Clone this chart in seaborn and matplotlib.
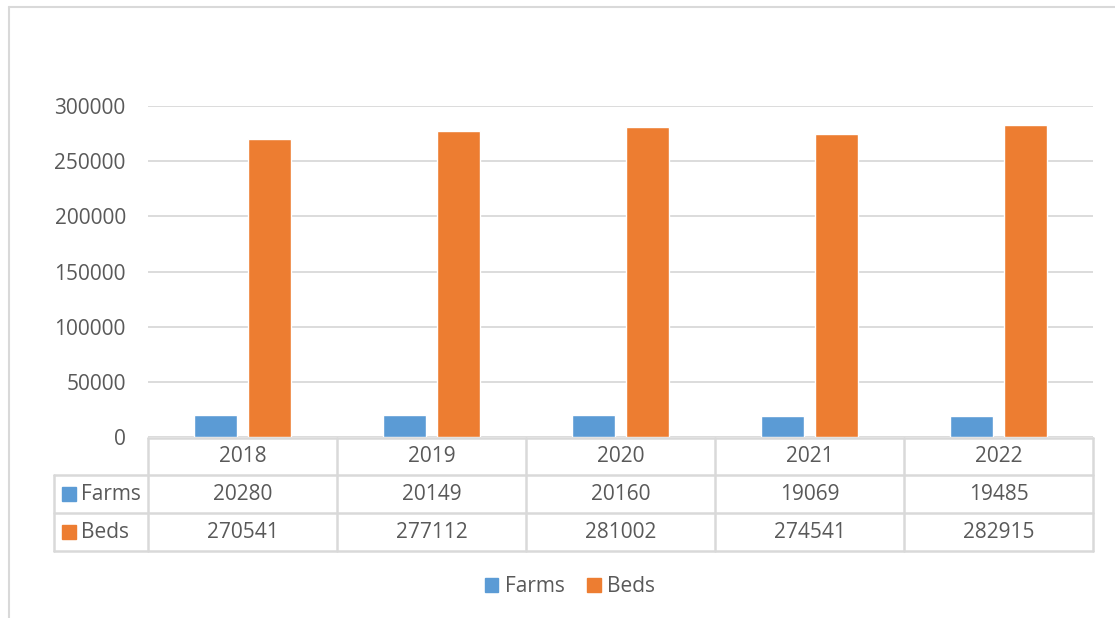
import pandas as pd
import matplotlib.pyplot as plt
import seaborn as sns
from matplotlib.lines import Line2D
from matplotlib.patches import Rectangle
from matplotlib.transforms import blended_transform_factory

# Datos del gráfico
years = ['2018', '2019', '2020', '2021', '2022']
farms = [20280, 20149, 20160, 19069, 19485]
beds = [270541, 277112, 281002, 274541, 282915]
series_names = ['Farms', 'Beds']
y_ticks = [0, 50000, 100000, 150000, 200000, 250000, 300000]

colors = {'Farms': '#5B9BD5', 'Beds': '#ED7D31'}
TXT = '#595959'
GRID = '#D9D9D9'
FS = 15

sns.set_theme(style="white")
plt.rcParams['font.family'] = ['Open Sans', 'DejaVu Sans']

df = pd.DataFrame({
    'year': years * 2,
    'value': farms + beds,
    'serie': ['Farms'] * len(years) + ['Beds'] * len(years),
})

W, H = 1115, 618
fig = plt.figure(figsize=(W / 100, H / 100), dpi=100)
fig.patch.set_facecolor('white')

def fx(px):
    return px / W

def fy(py):
    return 1 - py / H

ax = fig.add_axes([fx(148), fy(437), fx(1093) - fx(148), fy(106) - fy(437)])
sns.barplot(data=df, x='year', y='value', hue='serie', palette=colors,
            width=0.566, gap=0.2, ax=ax, legend=False, saturation=1)

ax.set_ylim(0, 300000)
ax.set_xlim(-0.5, len(years) - 0.5)
ax.set_yticks(y_ticks)
ax.set_yticklabels([str(t) for t in y_ticks], fontsize=FS, color=TXT)
ax.tick_params(axis='y', length=0, pad=16)
ax.set_xticks([])
ax.set_xlabel('')
ax.set_ylabel('')
ax.yaxis.grid(True, color=GRID, linewidth=1.3)
ax.set_axisbelow(True)
for s in ax.spines.values():
    s.set_visible(False)

# ---------------------------------------------------------
# Tabla de datos debajo del eje
# ---------------------------------------------------------
tr = blended_transform_factory(ax.transData, fig.transFigure)
row_edges = [438, 475, 513, 551]
lw = 1.8

# líneas horizontales
fig.add_artist(Line2D([fx(148), fx(1093)], [fy(438)] * 2, color=GRID, lw=lw))
for yy in row_edges[1:]:
    fig.add_artist(Line2D([fx(54), fx(1093)], [fy(yy)] * 2, color=GRID, lw=lw))
# líneas verticales
fig.add_artist(Line2D([fx(54), fx(54)], [fy(475), fy(551)], color=GRID, lw=lw))
for i in range(len(years) + 1):
    xx = i - 0.5
    fig.add_artist(Line2D([xx, xx], [fy(438), fy(551)], color=GRID, lw=lw, transform=tr))

row_centers = [456.5, 494, 532]
for i, yr in enumerate(years):
    fig.text(i, fy(row_centers[0]), yr, transform=tr, ha='center', va='center',
             fontsize=FS, color=TXT)
    fig.text(i, fy(row_centers[1]), str(farms[i]), transform=tr, ha='center', va='center',
             fontsize=FS, color=TXT)
    fig.text(i, fy(row_centers[2]), str(beds[i]), transform=tr, ha='center', va='center',
             fontsize=FS, color=TXT)

for name, yc in zip(series_names, row_centers[1:]):
    fig.add_artist(Rectangle((fx(62), fy(yc + 7)), fx(14), fy(0) - fy(14),
                             color=colors[name], transform=fig.transFigure))
    fig.text(fx(81), fy(yc), name, ha='left', va='center', fontsize=FS, color=TXT)

# Leyenda
handles = [Rectangle((0, 0), 1, 1, color=colors[n]) for n in series_names]
fig.legend(handles, series_names, loc='center', bbox_to_anchor=(fx(570), fy(587)),
           ncol=2, frameon=False, fontsize=FS, labelcolor=TXT,
           handlelength=0.65, handleheight=0.65, handletextpad=0.3, columnspacing=1.1)

# Marco del gráfico
fig.add_artist(Line2D([fx(9), fx(1115)], [fy(7)] * 2, color=GRID, lw=1.5))
fig.add_artist(Line2D([fx(9), fx(9)], [fy(7), fy(618)], color=GRID, lw=1.5))

fig.savefig('out.png', dpi=100, facecolor='white')
